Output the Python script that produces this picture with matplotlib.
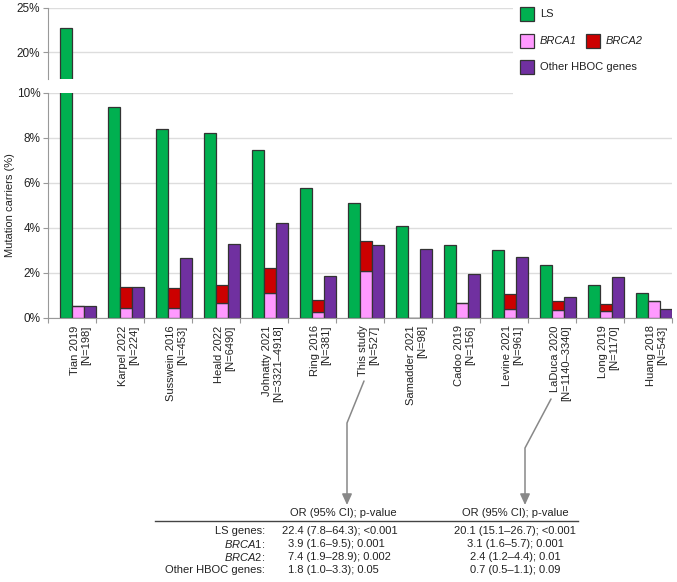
import matplotlib
matplotlib.use('Agg')
import matplotlib.pyplot as plt
import numpy as np
from matplotlib.patches import Rectangle, FancyArrowPatch
from matplotlib.path import Path
from matplotlib.lines import Line2D
from matplotlib.ticker import FuncFormatter

plt.rcParams['font.family'] = ['Liberation Sans', 'DejaVu Sans']
plt.rcParams['font.size'] = 8
plt.rcParams['mathtext.fontset'] = 'custom'
plt.rcParams['mathtext.rm'] = 'Liberation Sans'
plt.rcParams['mathtext.it'] = 'Liberation Sans:italic'

# data (% of carriers)
studies = ['Tian 2019', 'Karpel 2022', 'Susswein 2016', 'Heald 2022', 'Johnatty 2021',
           'Ring 2016', 'This study', 'Samadder 2021', 'Cadoo 2019', 'Levine 2021',
           'LaDuca 2020', 'Long 2019', 'Huang 2018']
sizes = ['198', '224', '453', '6490', '3321\u20134918', '381', '527', '98', '156', '961',
         '1140\u20133340', '1170', '543']
ls_pct = [22.7, 9.38, 8.39, 8.19, 7.45, 5.78, 5.12, 4.09, 3.22, 3.02, 2.33, 1.45, 1.10]
brca1_pct = [0.51, 0.44, 0.44, 0.64, 1.08, 0.24, 2.09, 0.0, 0.64, 0.40, 0.34, 0.31, 0.73]
brca2_pct = [0.0, 0.91, 0.87, 0.81, 1.11, 0.55, 1.33, 0.0, 0.0, 0.64, 0.40, 0.30, 0.0]
other_pct = [0.51, 1.35, 2.67, 3.26, 4.22, 1.85, 3.23, 3.07, 1.93, 2.70, 0.92, 1.81, 0.37]

or_rows = ['LS genes:', r'$\mathit{BRCA1}$:', r'$\mathit{BRCA2}$:', 'Other HBOC genes:']
or_this = ['22.4 (7.8\u201364.3); <0.001', '3.9 (1.6\u20139.5); 0.001',
           '7.4 (1.9\u201328.9); 0.002', '1.8 (1.0\u20133.3); 0.05']
or_laduca = ['20.1 (15.1\u201326.7); <0.001', '3.1 (1.6\u20135.7); 0.001',
             '2.4 (1.2\u20134.4); 0.01', '0.7 (0.5\u20131.1); 0.09']

GREEN = '#00b050'
PINK = '#ff99ff'
RED = '#cc0000'
PURPLE = '#7030a0'
EDGE = '#333333'
GRID = '#dddddd'
SPINE = '#999999'
TXT = '#222222'

W, H = 677, 582
def fx(px):
    return px / W
def fy(py):
    return 1 - py / H

fig = plt.figure(figsize=(W / 100, H / 100), dpi=100)
left, right = fx(48), fx(672)
ax_top = fig.add_axes([left, fy(79), right - left, fy(7.7) - fy(79)])
ax_bot = fig.add_axes([left, fy(317.7), right - left, fy(92.7) - fy(317.7)])

x = np.arange(len(studies))
bw = 0.25
for ax in (ax_top, ax_bot):
    ax.bar(x + 0.375, ls_pct, bw, color=GREEN, edgecolor=EDGE, lw=0.9, zorder=2)
    ax.bar(x + 0.625, brca1_pct, bw, color=PINK, edgecolor=EDGE, lw=0.9, zorder=2)
    ax.bar(x + 0.625, brca2_pct, bw, bottom=brca1_pct, color=RED, edgecolor=EDGE, lw=0.9, zorder=2)
    ax.bar(x + 0.875, other_pct, bw, color=PURPLE, edgecolor=EDGE, lw=0.9, zorder=2)
    ax.set_xlim(0, len(studies))
    ax.set_axisbelow(True)
    ax.yaxis.grid(True, color=GRID, lw=1)
    for s in ['top', 'right']:
        ax.spines[s].set_visible(False)
    ax.spines['left'].set_color(SPINE)
    ax.spines['bottom'].set_color(SPINE)
    ax.yaxis.set_major_formatter(FuncFormatter(lambda v, p: f'{v:.0f}%'))
    ax.tick_params(axis='y', direction='out', length=3.5, width=0.8, color=SPINE,
                   labelcolor=TXT, labelsize=8.5, pad=2)

# upper part of the broken axis
ax_top.set_ylim(17, 25)
ax_top.set_yticks([20, 25])
ax_top.spines['bottom'].set_visible(False)
ax_top.set_xticks([])

# lower part
ax_bot.set_ylim(0, 10)
ax_bot.set_yticks(range(0, 11, 2))
labels = [f'{s}\n[N={n}]' for s, n in zip(studies, sizes)]
ax_bot.set_xticks(x + 0.68)
ax_bot.set_xticklabels(labels, rotation=90, va='top', ha='center', multialignment='right',
                       color=TXT, fontsize=8)
ax_bot.tick_params(axis='x', which='major', length=0, pad=5.5)
ax_bot.set_xticks(np.arange(0, len(studies) + 1), minor=True)
ax_bot.tick_params(axis='x', which='minor', direction='out', length=3.5, width=0.8, color=SPINE)

fig.text(fx(10), fy(205), 'Mutation carriers (%)', rotation=90, ha='center', va='center',
         color=TXT, fontsize=8)

# white box behind the legend hides the gridlines there
fig.patches.append(Rectangle((fx(513), fy(95)), 1 - fx(513), fy(0) - fy(95),
                             transform=fig.transFigure, facecolor='white', edgecolor='none',
                             zorder=1))

def legend_item(px, py, color, label, italic=False):
    fig.patches.append(Rectangle((fx(px), fy(py + 6.5)), fx(13.5), fy(0) - fy(13),
                                 transform=fig.transFigure, facecolor=color,
                                 edgecolor=EDGE, lw=0.9, zorder=2))
    fig.text(fx(px + 20), fy(py), label, ha='left', va='center', color=TXT, fontsize=8,
             style='italic' if italic else 'normal', zorder=3)

legend_item(520, 14, GREEN, 'LS')
legend_item(520, 41, PINK, 'BRCA1', italic=True)
legend_item(586, 41, RED, 'BRCA2', italic=True)
legend_item(520, 67, PURPLE, 'Other HBOC genes')

# arrows from the two studies to their odds ratios
for pts in ([(364, 381), (347, 423), (347, 505)], [(551, 399), (525, 448), (525, 505)]):
    verts = [(fx(px), fy(py)) for px, py in pts]
    path = Path(verts, [Path.MOVETO, Path.LINETO, Path.LINETO])
    arr = FancyArrowPatch(path=path, arrowstyle='-|>,head_length=0.55,head_width=0.25',
                          mutation_scale=12, color='#888888', lw=1.1,
                          transform=fig.transFigure)
    fig.patches.append(arr)

# odds ratio table
fig.text(fx(343), fy(513), 'OR (95% CI); p-value', ha='center', va='center', color=TXT)
fig.text(fx(515), fy(513), 'OR (95% CI); p-value', ha='center', va='center', color=TXT)
fig.lines.append(Line2D([fx(155), fx(578)], [fy(521), fy(521)], transform=fig.transFigure,
                        color='#444444', lw=1))
row_y = [531, 544, 557, 570]
for lab, a, b, yy in zip(or_rows, or_this, or_laduca, row_y):
    fig.text(fx(265), fy(yy), lab, ha='right', va='center', color=TXT)
    # first column lines up on the decimal point
    n_int = len(a.split('.')[0])
    fig.text(fx(288 - 6 * (n_int - 1)), fy(yy), a, ha='left', va='center', color=TXT)
    fig.text(fx(515), fy(yy), b, ha='center', va='center', color=TXT)

fig.savefig('out.png', dpi=100)
